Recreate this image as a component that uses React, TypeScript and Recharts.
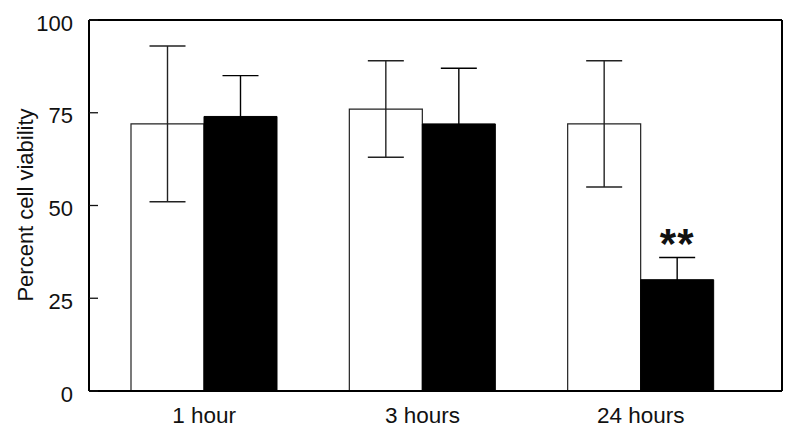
import { BarChart, Bar, Line, XAxis, YAxis, ErrorBar, LabelList } from 'recharts'

const font = '"Liberation Sans", Arial, sans-serif'

const timepoints = ['1 hour', '3 hours', '24 hours']
const controlMean = [72, 76, 72]
const controlErr = [21, 13, 17]
const treatedMean = [74, 72, 30]
const treatedErr = [11, 15, 6]
const significance = ['', '', '**']
const yTicks = [0, 25, 50, 75, 100]

const data = timepoints.map((t, i) => ({
  time: t,
  control: controlMean[i],
  controlErr: controlErr[i],
  treated: treatedMean[i],
  treatedErr: treatedErr[i],
  sig: significance[i],
}))

function YTick(props: any) {
  const { x, y, payload } = props
  return (
    <g>
      <line x1={x} y1={y} x2={x + 9} y2={y} stroke="#111" strokeWidth={1.3} />
      <text
        x={x - 16}
        y={y + 3}
        textAnchor="end"
        dominantBaseline="central"
        fontFamily={font}
        fontSize={22}
        fill="#111"
      >
        {payload.value}
      </text>
    </g>
  )
}

function XTick(props: any) {
  const { x, y, payload } = props
  return (
    <text x={x} y={y + 32} textAnchor="middle" fontFamily={font} fontSize={22.5} fill="#111">
      {payload.value}
    </text>
  )
}

function SigLabel(props: any) {
  const { x, y, width, value } = props
  if (!value) return null
  return (
    <text
      x={x + width / 2}
      y={y - 22}
      textAnchor="middle"
      fontFamily={font}
      fontWeight="bold"
      fontSize={42}
      letterSpacing={1}
      fill="#111"
    >
      {value}
    </text>
  )
}

export default function App() {
  return (
    <div style={{ position: 'absolute', left: 0, top: 0, background: '#fff' }}>
      <BarChart
        width={800}
        height={442}
        data={data}
        margin={{ top: 19, right: 17, bottom: 0, left: 0 }}
        barSize={73}
        barGap={0}
      >
        <XAxis
          dataKey="time"
          height={51}
          padding={{ left: 6, right: 32 }}
          axisLine={{ stroke: '#000', strokeWidth: 2 }}
          tickLine={false}
          tickSize={0}
          tickMargin={0}
          tick={<XTick />}
        />
        {/* frame: top and right edges */}
        <XAxis xAxisId="top" orientation="top" dataKey="time" height={1} tick={false} tickLine={false} axisLine={{ stroke: '#000', strokeWidth: 2 }} />
        <YAxis
          domain={[0, 100]}
          ticks={yTicks}
          width={89}
          axisLine={{ stroke: '#000', strokeWidth: 2 }}
          tickLine={false}
          tickSize={0}
          tickMargin={0}
          tick={<YTick />}
          label={{
            content: () => (
              <text
                transform="translate(25,205) rotate(-90)"
                textAnchor="middle"
                dominantBaseline="central"
                fontFamily={font}
                fontSize={22}
                fill="#111"
              >
                Percent cell viability
              </text>
            ),
          }}
        />
        <YAxis yAxisId="right" orientation="right" domain={[0, 100]} width={1} tick={false} tickLine={false} axisLine={{ stroke: '#000', strokeWidth: 2 }} />
        <Bar dataKey="control" fill="#fff" stroke="#222" strokeWidth={1.2} isAnimationActive={false}>
          <ErrorBar dataKey="controlErr" width={18} stroke="#222" strokeWidth={1.4} isAnimationActive={false} />
        </Bar>
        <Bar dataKey="treated" fill="#000" stroke="#000" strokeWidth={1} isAnimationActive={false}>
          <ErrorBar dataKey="treatedErr" width={18} stroke="#000" strokeWidth={1.4} isAnimationActive={false} />
          <LabelList dataKey="sig" content={<SigLabel />} />
        </Bar>
        <Line
          xAxisId="top"
          yAxisId="right"
          dataKey="control"
          stroke="none"
          dot={false}
          activeDot={false}
          legendType="none"
          isAnimationActive={false}
        />
      </BarChart>
    </div>
  )
}
